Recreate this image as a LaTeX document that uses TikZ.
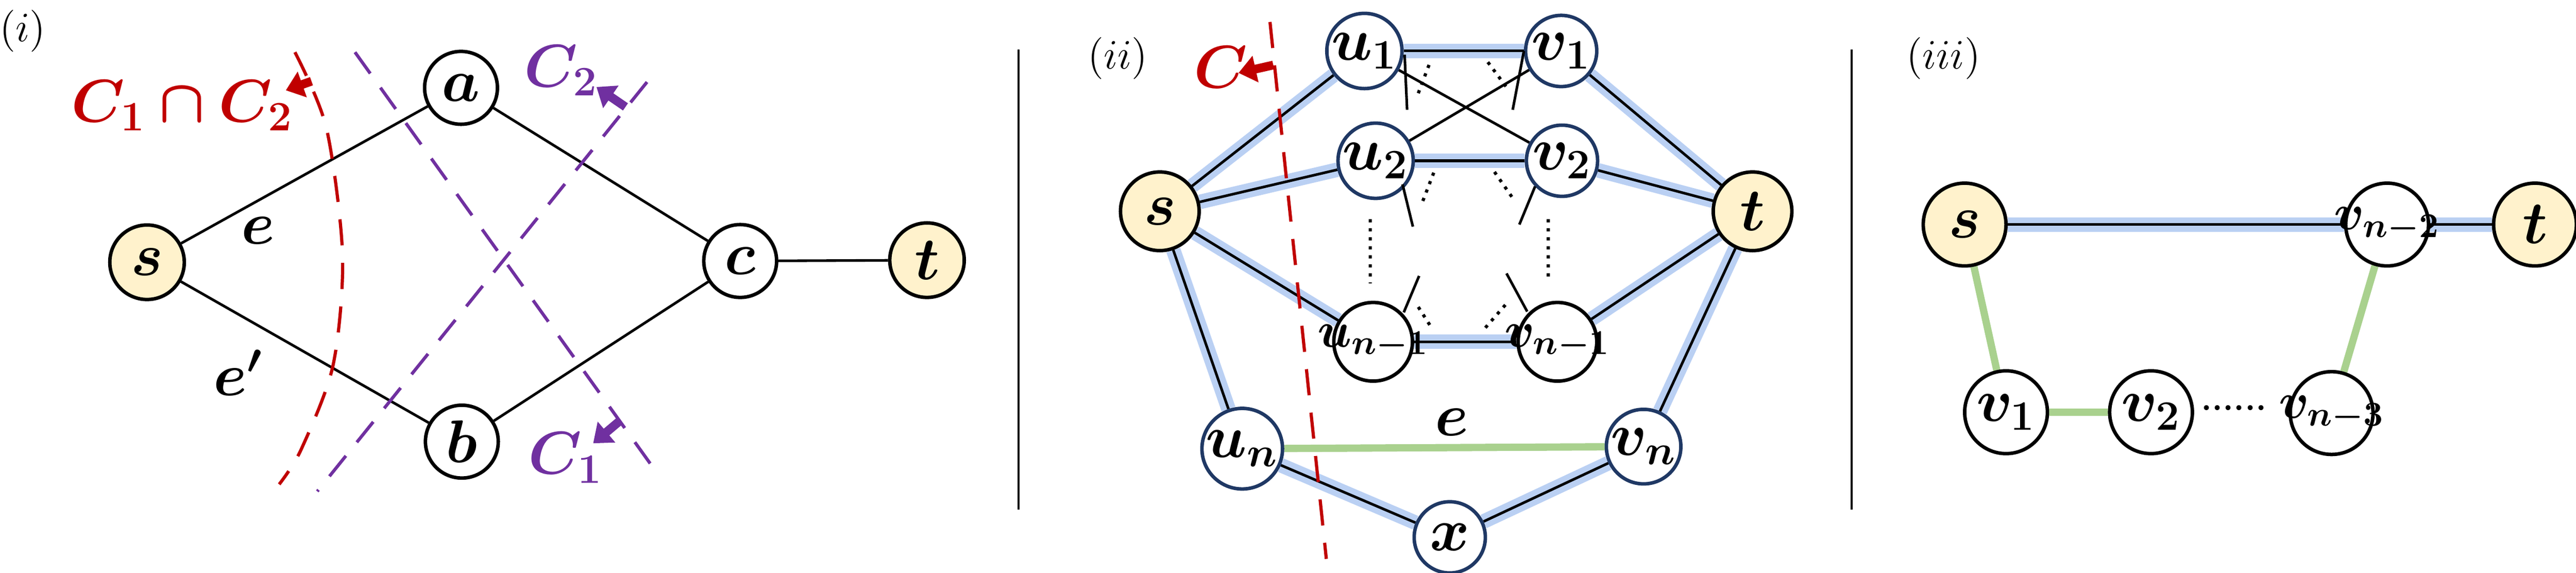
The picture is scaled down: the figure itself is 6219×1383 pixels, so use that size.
\documentclass[tikz,border=0pt]{standalone}
\usepackage{amsmath}
\usepackage{amssymb}
\usepackage{bm}
\usepackage{xcolor}
\usepackage{tikz}
\usetikzlibrary{arrows.meta,backgrounds}
\definecolor{cutred}{HTML}{C00000}
\definecolor{cutpurple}{HTML}{7030A0}
\definecolor{termfill}{HTML}{FFF2CC}
\definecolor{navy}{HTML}{1F3864}
\definecolor{leaf}{HTML}{A9D18E}
\definecolor{glowblue}{HTML}{A9C4F0}
\newcommand{\bigtxt}{\fontsize{20}{24}\selectfont}
\newcommand{\subtxt}{\fontsize{16.5}{19}\selectfont}

\begin{document}
\begin{tikzpicture}[x=0.005cm, y=-0.005cm,
    vert/.style={circle, draw, fill=white, line width=1.2pt, minimum size=0.88cm, inner sep=0pt, font=\bigtxt},
    term/.style={vert, fill=termfill, minimum size=0.9cm},
    smallv/.style={vert, draw=navy, minimum size=0.86cm},
    subv/.style={inner sep=-8pt, font=\subtxt},
    glow/.style={line width=0.9pt, preaction={draw=glowblue, line width=5pt, opacity=0.8}},
    cut/.style={dashed, line width=1.1pt, dash pattern=on 9pt off 6pt},
    cutarrow/.style={line width=3pt, -{Triangle[length=6pt,width=9pt]}}]
            \useasboundingbox (0,0) rectangle (6219,1383);

            % (i)
            \node[font=\Large] at (55,75) {$(i)$};
            \node[term] (s1) at (355,633) {$\bm{s}$};
            \node[vert] (a) at (1113,212) {$\bm{a}$};
            \node[vert] (b) at (1115,1066) {$\bm{b}$};
            \node[vert] (c) at (1787,630) {$\bm{c}$};
            \node[term] (t1) at (2238,628) {$\bm{t}$};
            \draw[line width=0.9pt] (s1)--(a) (a)--(c) (s1)--(b) (b)--(c) (c)--(t1);
            \node[font=\bigtxt] (e1) at (623,556) {$\bm{e}$};
            \node[font=\bigtxt] (e2) at (575,900) {$\bm{e'}$};

            \draw[cut, cutred] plot[smooth] coordinates {(712,126) (788,309) (827,617) (804,882) (727,1085) (674,1169)};
            \draw[cutarrow, cutred] (752,196)--(690,218);
            \node[font=\bigtxt, text=cutred] (c12) at (440,255) {$\bm{C_1\cap C_2}$};

            \draw[cut, cutpurple] (857,126)--(1577,1129);
            \draw[cut, cutpurple] (1562,198)--(766,1186);
            \draw[cutarrow, cutpurple] (1495,1017)--(1432,1070);
            \draw[cutarrow, cutpurple] (1510,258)--(1440,210);
            \node[font=\bigtxt, text=cutpurple] (cc1) at (1365,1105) {$\bm{C_1}$};
            \node[font=\bigtxt, text=cutpurple] (cc2) at (1355,170) {$\bm{C_2}$};

            \draw[line width=0.7pt] (2459,120)--(2459,1230);
            \draw[line width=0.7pt] (4470,120)--(4470,1230);

            % (ii)
            \node[font=\Large] at (2698,141) {$(ii)$};
            \node[term, minimum size=0.95cm] (s2) at (2800,510) {$\bm{s}$};
            \node[term, minimum size=0.95cm] (t2) at (4231,510) {$\bm{t}$};
            \node[smallv] (u1) at (3294,123) {$\bm{u_1}$};
            \node[smallv] (v1) at (3769,123) {$\bm{v_1}$};
            \node[smallv] (u2) at (3321,388) {$\bm{u_2}$};
            \node[smallv] (v2) at (3771,388) {$\bm{v_2}$};
            \node[vert, subv, minimum size=0.95cm] (um) at (3315,825) {$\bm{u_{n-1}}$};
            \node[vert, subv, minimum size=0.95cm] (vm) at (3760,825) {$\bm{v_{n-1}}$};
            \node[smallv] (un) at (2999,1083) {$\bm{u_n}$};
            \node[smallv] (vn) at (3968,1078) {$\bm{v_n}$};
            \node[smallv] (x) at (3500,1297) {$\bm{x}$};

            \begin{pgfonlayer}{background}
            \draw[glow] (s2)--(u1) (s2)--(u2) (s2)--(um) (s2)--(un);
            \draw[glow] (u1)--(v1) (u2)--(v2) (um)--(vm);
            \draw[glow] (v1)--(t2) (v2)--(t2) (vm)--(t2) (vn)--(t2);
            \draw[glow] (un)--(x) (x)--(vn);
            \draw[leaf, line width=2.5pt] (un)--(vn);
            \draw[line width=0.9pt] (u1)--(v2) (u2)--(v1);
            \end{pgfonlayer}
            \node[font=\bigtxt] (e3) at (3505,1019) {$\bm{e}$};

            \draw[line width=0.9pt] (3391,132)--(3397,265) (3679,123)--(3652,265)
                (3386,445)--(3411,547) (3706,450)--(3668,542)
                (3389,754)--(3426,666) (3687,752)--(3637,660);
            \draw[line width=1.1pt, dotted] (3424,225)--(3451,154) (3592,150)--(3641,216)
                (3435,485)--(3462,415) (3608,415)--(3654,481)
                (3424,741)--(3456,791) (3586,791)--(3635,735)
                (3308,529)--(3308,684) (3738,529)--(3738,679);

            \draw[cut, cutred] (3066,53)--(3202,1349);
            \draw[cutarrow, cutred] (3074,157)--(2990,176);
            \node[font=\bigtxt, text=cutred] (cc) at (2947,162) {$\bm{C}$};

            % (iii)
            \node[font=\Large] at (4692,141) {$(iii)$};
            \node[term, minimum size=1cm] (s3) at (4743,542) {$\bm{s}$};
            \node[vert, subv, minimum size=1cm] (w2) at (5763,542) {$\bm{v_{n-2}}$};
            \node[term, minimum size=1cm] (t3) at (6120,542) {$\bm{t}$};
            \node[vert, minimum size=1cm] (w1a) at (4843,995) {$\bm{v_1}$};
            \node[vert, minimum size=1cm] (w1b) at (5193,995) {$\bm{v_2}$};
            \node[vert, subv, minimum size=1cm] (w3) at (5629,997) {$\bm{v_{n-3}}$};
            \begin{pgfonlayer}{background}
            \draw[glow] (s3)--(w2) (w2)--(t3);
            \draw[leaf, line width=2.5pt] (s3)--(w1a) (w1a)--(w1b) (w2)--(w3);
            \end{pgfonlayer}
            \node[font=\large] (dots) at (5393,985) {\textbf{......}};
\end{tikzpicture}
\end{document}
